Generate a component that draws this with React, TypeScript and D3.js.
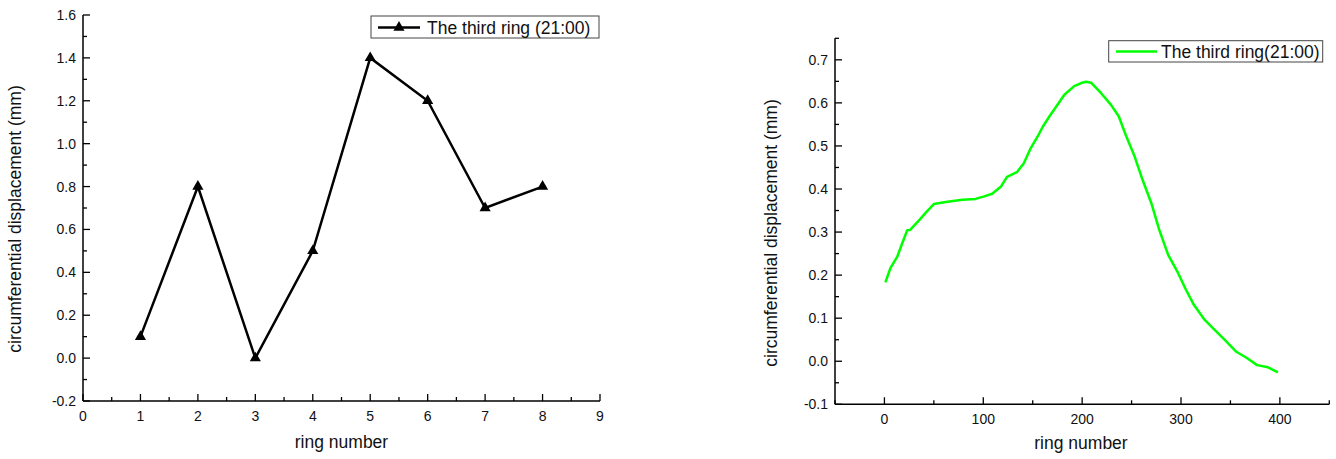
import React from "react";
import * as d3 from "d3";

// ---------- data ----------
const leftRings = [1, 2, 3, 4, 5, 6, 7, 8];
const leftDisp = [0.1, 0.8, 0.0, 0.5, 1.4, 1.2, 0.7, 0.8];
const leftXTicks = [0, 1, 2, 3, 4, 5, 6, 7, 8, 9];
const leftYTicks = [-0.2, 0, 0.2, 0.4, 0.6, 0.8, 1.0, 1.2, 1.4, 1.6];
const leftLegend = "The third ring (21:00)";

const rightRings = [1, 6, 13, 18, 23, 26, 35, 43, 50, 62, 79, 92, 101, 109, 118, 124, 134, 141, 148, 155, 160, 167, 174, 182, 192, 199, 204, 209, 219, 229, 237, 244, 253, 261, 270, 278, 287, 297, 305, 313, 324, 334, 344, 356, 367, 377, 388, 398];
const rightDisp = [0.183, 0.216, 0.243, 0.274, 0.304, 0.305, 0.327, 0.348, 0.365, 0.370, 0.375, 0.377, 0.383, 0.389, 0.406, 0.428, 0.439, 0.460, 0.495, 0.522, 0.544, 0.569, 0.592, 0.619, 0.639, 0.646, 0.649, 0.647, 0.623, 0.596, 0.569, 0.526, 0.476, 0.422, 0.367, 0.305, 0.247, 0.205, 0.166, 0.131, 0.096, 0.073, 0.050, 0.022, 0.007, -0.009, -0.014, -0.026];
const rightXTicks = [0, 100, 200, 300, 400];
const rightXMinor = [-50, 50, 150, 250, 350, 450];
const rightYTicks = [-0.1, 0, 0.1, 0.2, 0.3, 0.4, 0.5, 0.6, 0.7];
const rightLegend = "The third ring(21:00)";

const xTitle = "ring number";
const yTitle = "circumferential displacement (mm)";

const FONT = "Liberation Sans, Arial, sans-serif";

function Axes({ x, y, xTicks, xMinor, yTicks, yMinor, xFmt, yFmt }: any) {
  const [x0, x1] = x.range();
  const [y0, y1] = y.range();
  return (
    <g>
      <line x1={x0} x2={x0} y1={y1} y2={y0} stroke="#000" strokeWidth={1.5} />
      <line x1={x0} x2={x1} y1={y0} y2={y0} stroke="#000" strokeWidth={1.5} />
      {xTicks.map((t: number) => (
        <g key={"xt" + t}>
          <line x1={x(t)} x2={x(t)} y1={y0} y2={y0 - 7} stroke="#000" strokeWidth={1.3} />
          <text x={x(t)} y={y0 + 20} textAnchor="middle" fontSize={14} fontFamily={FONT} fill="#111">
            {xFmt(t)}
          </text>
        </g>
      ))}
      {xMinor.map((t: number) => (
        <line key={"xm" + t} x1={x(t)} x2={x(t)} y1={y0} y2={y0 - 4} stroke="#000" strokeWidth={1.3} />
      ))}
      {yTicks.map((t: number) => (
        <g key={"yt" + t}>
          <line x1={x0} x2={x0 + 7} y1={y(t)} y2={y(t)} stroke="#000" strokeWidth={1.3} />
          <text x={x0 - 7} y={y(t) + 5} textAnchor="end" fontSize={14} fontFamily={FONT} fill="#111">
            {yFmt(t)}
          </text>
        </g>
      ))}
      {yMinor.map((t: number) => (
        <line key={"ym" + t} x1={x0} x2={x0 + 4} y1={y(t)} y2={y(t)} stroke="#000" strokeWidth={1.3} />
      ))}
    </g>
  );
}

export default function App() {
  // left chart
  const xL = d3.scaleLinear().domain([0, 9]).range([83, 600]);
  const yL = d3.scaleLinear().domain([-0.2, 1.6]).range([401, 15]);
  const lineL = d3.line<number>().x((_, i) => xL(leftRings[i])).y((d) => yL(d));
  const tri = d3.symbol().type(d3.symbolTriangle).size(54)() as string;
  const leftXMinor = leftXTicks.slice(0, -1).map((t) => t + 0.5);
  const leftYMinor = leftYTicks.slice(0, -1).map((t) => t + 0.1);

  // right chart
  const xR = d3.scaleLinear().domain([-50, 450]).range([835, 1329.3]);
  const yR = d3.scaleLinear().domain([-0.1, 0.75]).range([404.3, 38.3]);
  const lineR = d3.line<number>().x((_, i) => xR(rightRings[i])).y((d) => yR(d));
  const rightYMinor = rightYTicks.map((t) => t + 0.05);

  const fmt1 = d3.format(".1f");
  const fmtNum = (v: number) => (v < 0 ? "-" + fmt1(-v) : fmt1(v));

  return (
    <div style={{ position: "absolute", left: 0, top: 0 }}>
      <svg width={1336} height={459} style={{ display: "block", background: "#fff" }}>
        {/* Left chart */}
        <Axes
          x={xL}
          y={yL}
          xTicks={leftXTicks}
          xMinor={leftXMinor}
          yTicks={leftYTicks}
          yMinor={leftYMinor}
          xFmt={(t: number) => String(t)}
          yFmt={fmtNum}
        />
        <path d={lineL(leftDisp) as string} fill="none" stroke="#000" strokeWidth={2.5} strokeLinejoin="miter" />
        {leftDisp.map((d, i) => (
          <path key={i} d={tri} transform={`translate(${xL(leftRings[i])},${yL(d)})`} fill="#000" />
        ))}
        <text x={341.5} y={448} textAnchor="middle" fontSize={17.5} fontFamily={FONT} fill="#111">
          {xTitle}
        </text>
        <text
          transform="translate(21,219) rotate(-90)"
          textAnchor="middle"
          fontSize={17.5}
          fontFamily={FONT}
          fill="#111"
        >
          {yTitle}
        </text>
        <rect x={371} y={16} width={228} height={22} fill="#fff" stroke="#444" strokeWidth={1} />
        <line x1={378} x2={420} y1={27.5} y2={27.5} stroke="#000" strokeWidth={2.5} />
        <path d={tri} transform="translate(399,27.5)" fill="#000" />
        <text x={427} y={34} fontSize={17.5} fontFamily={FONT} fill="#111">
          {leftLegend}
        </text>

        {/* Right chart */}
        <Axes
          x={xR}
          y={yR}
          xTicks={rightXTicks}
          xMinor={rightXMinor}
          yTicks={rightYTicks}
          yMinor={rightYMinor}
          xFmt={(t: number) => String(t)}
          yFmt={fmtNum}
        />
        <path d={lineR(rightDisp) as string} fill="none" stroke="#00ff00" strokeWidth={2.5} strokeLinejoin="round" />
        <text x={1081} y={449} textAnchor="middle" fontSize={17.5} fontFamily={FONT} fill="#111">
          {xTitle}
        </text>
        <text
          transform="translate(777,233) rotate(-90)"
          textAnchor="middle"
          fontSize={17.5}
          fontFamily={FONT}
          fill="#111"
        >
          {yTitle}
        </text>
        <rect x={1108.7} y={40.7} width={214} height={21.3} fill="#fff" stroke="#444" strokeWidth={1} />
        <line x1={1116} x2={1157} y1={51.5} y2={51.5} stroke="#00ff00" strokeWidth={2.5} />
        <text x={1161} y={58} fontSize={17.5} fontFamily={FONT} fill="#111">
          {rightLegend}
        </text>
      </svg>
    </div>
  );
}
